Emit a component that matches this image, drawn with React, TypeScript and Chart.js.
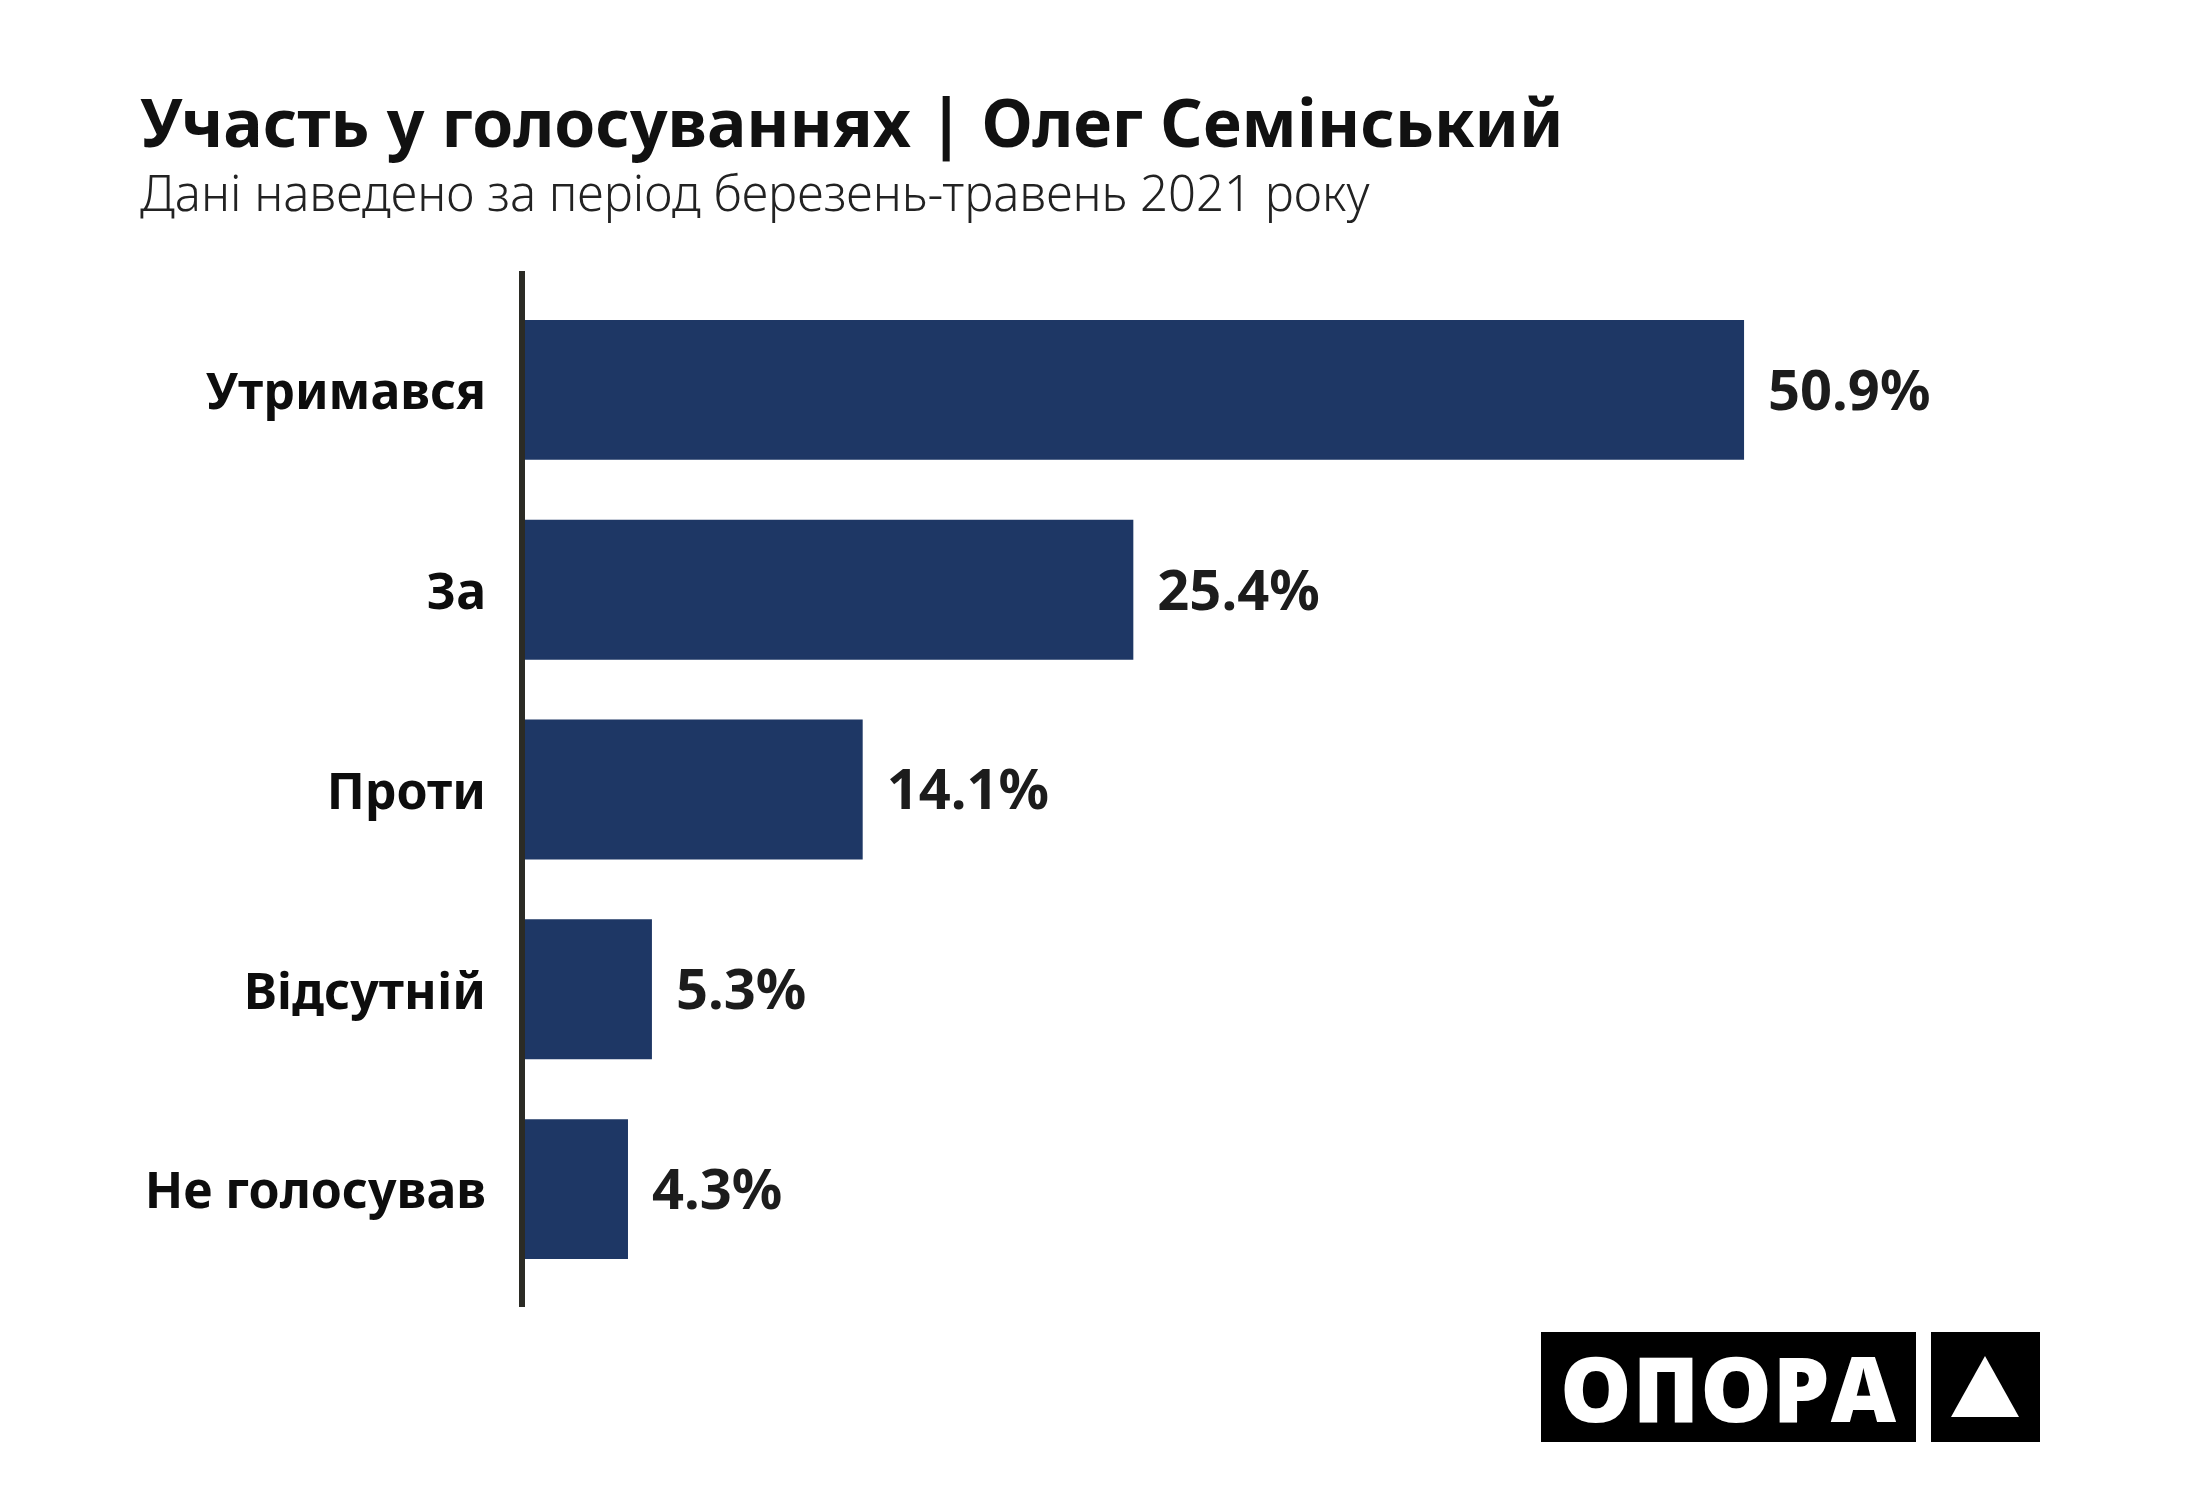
import React, { useEffect, useRef } from "react";
import { Chart, registerables } from "chart.js";

Chart.register(...registerables);

const categories: string[] = ["Утримався", "За", "Проти", "Відсутній", "Не голосував"];
const values: number[] = [50.9, 25.4, 14.1, 5.3, 4.3];
const titleText = "Участь у голосуваннях | Олег Семінський";
const subtitleText = "Дані наведено за період березень-травень 2021 року";
const logoText = "ОПОРА";

const BAR_COLOR = "#1e3765";

export default function App() {
  const ref = useRef<HTMLCanvasElement | null>(null);

  useEffect(() => {
    document.body.style.margin = "0";
    const canvas = ref.current;
    if (!canvas) return;

    const axisLine = {
      id: "axisLine",
      afterDatasetsDraw(chart: any) {
        const { ctx, chartArea } = chart;
        ctx.save();
        ctx.strokeStyle = "#2b2b25";
        ctx.lineWidth = 6;
        ctx.beginPath();
        ctx.moveTo(chartArea.left - 3, chartArea.top - 19);
        ctx.lineTo(chartArea.left - 3, chartArea.bottom + 18);
        ctx.stroke();
        ctx.restore();
      },
    };

    const valueLabels = {
      id: "valueLabels",
      afterDatasetsDraw(chart: any) {
        const { ctx } = chart;
        const meta = chart.getDatasetMeta(0);
        ctx.save();
        ctx.fillStyle = "#1c1c1c";
        ctx.font = "700 56px 'Noto Sans'";
        ctx.textAlign = "left";
        ctx.textBaseline = "middle";
        meta.data.forEach((bar: any, i: number) => {
          ctx.fillText(values[i].toFixed(1) + "%", bar.x + 24, bar.y + 4);
        });
        ctx.restore();
      },
    };

    const chart = new Chart(canvas, {
      type: "bar",
      data: {
        labels: categories,
        datasets: [
          {
            data: values,
            backgroundColor: BAR_COLOR,
            borderWidth: 0,
            barPercentage: 0.7,
            categoryPercentage: 1,
          },
        ],
      },
      options: {
        indexAxis: "y",
        responsive: false,
        animation: false,
        devicePixelRatio: 1,
        layout: { padding: { top: 290, bottom: 211, left: 0, right: 238 } },
        plugins: {
          legend: { display: false },
          tooltip: { enabled: false },
          title: { display: false },
        },
        scales: {
          x: {
            display: false,
            min: 0,
            max: 60,
          },
          y: {
            grid: { display: false, drawTicks: false },
            border: { display: false },
            afterFit(scale: any) {
              scale.width = 525;
            },
            ticks: {
              padding: 39,
              labelOffset: 5,
              color: "#0d0d0d",
              font: { family: "'Noto Sans'", weight: "bold", size: 50 },
            },
          },
        },
      },
      plugins: [axisLine, valueLabels],
    });

    return () => {
      chart.destroy();
    };
  }, []);

  return (
    <div
      style={{
        position: "fixed",
        left: 0,
        top: 0,
        width: 2200,
        height: 1500,
        background: "#ffffff",
        overflow: "hidden",
      }}
    >
      <canvas
        ref={ref}
        width={2200}
        height={1500}
        style={{ position: "absolute", left: 0, top: 0, width: 2200, height: 1500 }}
      />
      <div
        style={{
          position: "absolute",
          left: 140,
          top: 88,
          fontFamily: "'Noto Sans'",
          fontWeight: 700,
          fontSize: 66,
          lineHeight: "66px",
          color: "#111111",
          whiteSpace: "nowrap",
        }}
      >
        {titleText}
      </div>
      <div
        style={{
          position: "absolute",
          left: 140,
          top: 168,
          fontFamily: "'Noto Sans'",
          fontWeight: 300,
          fontSize: 49,
          lineHeight: "49px",
          color: "#222222",
          whiteSpace: "nowrap",
        }}
      >
        {subtitleText}
      </div>
      <div
        style={{
          position: "absolute",
          left: 1541,
          top: 1332,
          width: 375,
          height: 110,
          background: "#000000",
          color: "#ffffff",
          fontFamily: "'Open Sans'",
          fontWeight: 800,
          fontSize: 90,
          lineHeight: "110px",
          textAlign: "center",
          letterSpacing: 1,
        }}
      >
        {logoText}
      </div>
      <div
        style={{
          position: "absolute",
          left: 1931,
          top: 1332,
          width: 109,
          height: 110,
          background: "#000000",
        }}
      >
        <div
          style={{
            position: "absolute",
            left: 20,
            top: 24,
            width: 0,
            height: 0,
            borderLeft: "34px solid transparent",
            borderRight: "34px solid transparent",
            borderBottom: "61px solid #ffffff",
          }}
        />
      </div>
    </div>
  );
}
